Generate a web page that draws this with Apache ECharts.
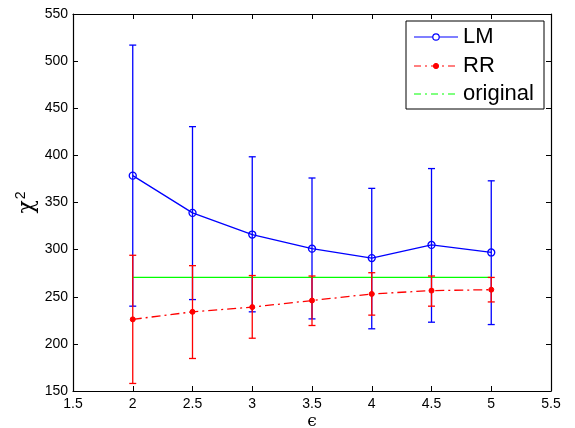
<!DOCTYPE html>
<html>
<head>
<meta charset="utf-8">
<script src="https://cdn.jsdelivr.net/npm/echarts@6/dist/echarts.min.js"></script>
<style>
  html, body { margin: 0; padding: 0; background: #fff; }
  #chart { width: 575px; height: 428px; }
</style>
</head>
<body>
<div id="chart"></div>
<script>
// epsilon values on the x axis
const epsilon = [2, 2.5, 3, 3.5, 4, 4.5, 5];

// LM: mean chi-square with lower / upper error limits
const lmMean = [378.5, 339, 316, 301, 291, 305, 297];
const lmLow  = [240, 247, 234, 226.5, 216, 223, 220.5];
const lmHigh = [517, 430.5, 398.5, 376, 365, 386, 373];

// RR: mean chi-square with lower / upper error limits
const rrMean = [226, 234, 239, 246, 253, 256.5, 257.5];
const rrLow  = [158, 184.5, 206, 219.5, 230.5, 240, 244.5];
const rrHigh = [294, 283, 272.5, 272, 275.5, 272, 270.5];

// chi-square of the original model
const originalValue = 270.5;

const xTicks = { min: 1.5, max: 5.5, step: 0.5 };
const yTicks = { min: 150, max: 550, step: 50 };

const FONT = 'Liberation Sans, Arial, Helvetica, sans-serif';
const BLUE = '#0000ff';
const RED = '#ff0000';
const GREEN = '#00ff00';

const pairs = (xs, ys) => xs.map((x, i) => [x, ys[i]]);
const bars = (xs, lo, hi) => xs.map((x, i) => [x, lo[i], hi[i]]);

function errorBarRenderer(color) {
  return function (params, api) {
    const x = api.value(0);
    const lo = api.coord([x, api.value(1)]);
    const hi = api.coord([x, api.value(2)]);
    const cap = 3.5;
    const style = { stroke: color, lineWidth: 1.3, fill: null };
    return {
      type: 'group',
      children: [
        { type: 'line', shape: { x1: lo[0], y1: lo[1], x2: hi[0], y2: hi[1] }, style },
        { type: 'line', shape: { x1: lo[0] - cap, y1: lo[1], x2: lo[0] + cap, y2: lo[1] }, style },
        { type: 'line', shape: { x1: hi[0] - cap, y1: hi[1], x2: hi[0] + cap, y2: hi[1] }, style }
      ]
    };
  };
}

const tickStyle = { show: true, inside: true, length: 5, lineStyle: { color: '#000', width: 1 } };
const lineStyleAxis = { show: true, onZero: false, lineStyle: { color: '#000', width: 1.2 } };
const labelStyle = { color: '#000', fontSize: 14, fontFamily: FONT };

// legend drawn as a framed box in the upper right
const legendX = 406, legendY = 21, legendW = 138, legendH = 88;
const rowsY = [37, 66, 94];
const sampleX1 = 414, sampleX2 = 458, textX = 463, markX = 436;
function legendRow(y, color, dash, marker, label) {
  const lineStyle = { stroke: color, lineWidth: 1.2 };
  if (dash) lineStyle.lineDash = dash;
  const items = [
    { type: 'line', z: 101, shape: { x1: sampleX1, y1: y, x2: sampleX2, y2: y }, style: lineStyle },
    { type: 'text', z: 101, x: textX, y: y, style: { text: label, fill: '#000', fontSize: 22,
      fontFamily: FONT, verticalAlign: 'middle', align: 'left' } }
  ];
  if (marker === 'circle') {
    items.push({ type: 'circle', z: 102, shape: { cx: markX, cy: y, r: 3.2 },
      style: { stroke: color, fill: '#fff', lineWidth: 1.2 } });
  } else if (marker === 'dot') {
    items.push({ type: 'circle', z: 102, shape: { cx: markX, cy: y, r: 2.6 },
      style: { fill: color, stroke: color } });
  }
  return items;
}

const chart = echarts.init(document.getElementById('chart'), null, { renderer: 'canvas' });
chart.setOption({
  animation: false,
  backgroundColor: '#fff',
  grid: { left: 73, right: 24, top: 14, bottom: 37, containLabel: false, outerBoundsMode: 'none' },
  xAxis: [
    {
      type: 'value', min: xTicks.min, max: xTicks.max, interval: xTicks.step,
      axisLine: lineStyleAxis, axisTick: tickStyle, splitLine: { show: false },
      axisLabel: Object.assign({ margin: 6 }, labelStyle),
      name: 'ϵ', nameLocation: 'middle', nameGap: 22, nameMoveOverlap: false,
      nameTextStyle: { color: '#000', fontSize: 17, fontFamily: 'DejaVu Serif, serif' }
    },
    {
      type: 'value', position: 'top', min: xTicks.min, max: xTicks.max, interval: xTicks.step,
      axisLine: lineStyleAxis, axisTick: tickStyle, axisLabel: { show: false }, splitLine: { show: false }
    }
  ],
  yAxis: [
    {
      type: 'value', min: yTicks.min, max: yTicks.max, interval: yTicks.step,
      axisLine: lineStyleAxis, axisTick: tickStyle, splitLine: { show: false },
      axisLabel: Object.assign({ margin: 5 }, labelStyle),
      name: '{a|χ}{b|2}', nameLocation: 'middle', nameGap: 33, nameRotate: 90, nameMoveOverlap: false,
      nameTextStyle: {
        rich: {
          a: { fontSize: 22, fontFamily: 'DejaVu Serif, serif', color: '#000' },
          b: { fontSize: 14, fontFamily: FONT, color: '#000', padding: [0, 0, 12, 1] }
        }
      }
    },
    {
      type: 'value', position: 'right', min: yTicks.min, max: yTicks.max, interval: yTicks.step,
      axisLine: lineStyleAxis, axisTick: tickStyle, axisLabel: { show: false }, splitLine: { show: false }
    }
  ],
  series: [
    {
      name: 'LM error', type: 'custom', renderItem: errorBarRenderer(BLUE),
      data: bars(epsilon, lmLow, lmHigh), z: 2
    },
    {
      name: 'LM', type: 'line', data: pairs(epsilon, lmMean), z: 3,
      lineStyle: { color: BLUE, width: 1.3 },
      symbol: 'circle', symbolSize: 7,
      itemStyle: { color: 'rgba(0,0,0,0)', borderColor: BLUE, borderWidth: 1.3 }
    },
    {
      name: 'original', type: 'line', data: pairs([epsilon[0], epsilon[epsilon.length - 1]], [originalValue, originalValue]),
      z: 4, symbol: 'none', lineStyle: { color: GREEN, width: 1.2 }
    },
    {
      name: 'RR error', type: 'custom', renderItem: errorBarRenderer(RED),
      data: bars(epsilon, rrLow, rrHigh), z: 5
    },
    {
      name: 'RR', type: 'line', data: pairs(epsilon, rrMean), z: 6,
      lineStyle: { color: RED, width: 1.3, type: [9, 4, 2, 4] },
      symbol: 'circle', symbolSize: 5,
      itemStyle: { color: RED, borderColor: RED }
    }
  ],
  graphic: [
    { type: 'rect', z: 100, shape: { x: legendX, y: legendY, width: legendW, height: legendH },
      style: { fill: '#fff', stroke: '#000', lineWidth: 1 } },
    ...legendRow(rowsY[0], BLUE, null, 'circle', 'LM'),
    ...legendRow(rowsY[1], RED, [7, 4, 2, 4], 'dot', 'RR'),
    ...legendRow(rowsY[2], GREEN, [7, 4, 2, 4], null, 'original')
  ]
});
</script>
</body>
</html>
